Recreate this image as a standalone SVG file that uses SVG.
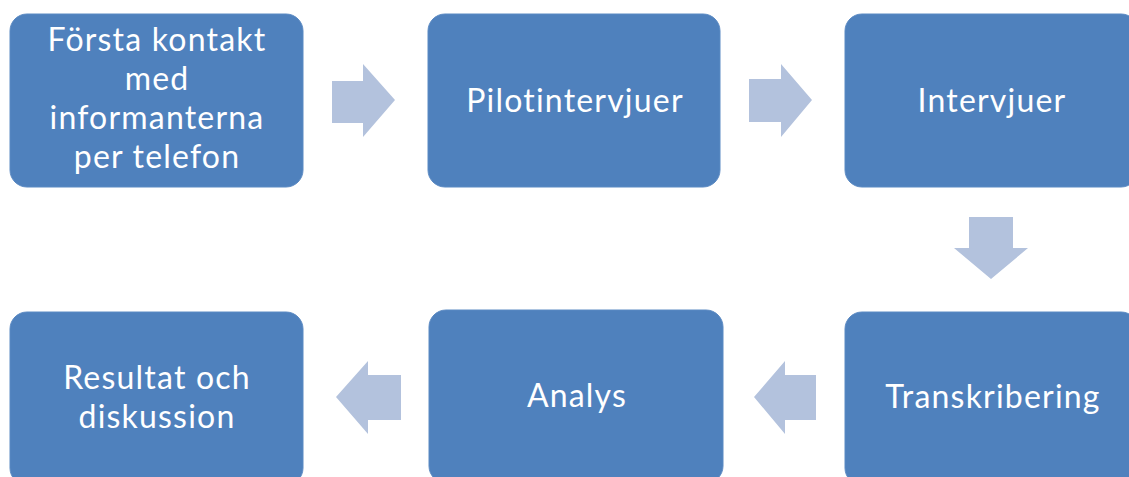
<svg xmlns="http://www.w3.org/2000/svg" width="1129" height="477" viewBox="0 0 1129 477">
<style>
.box{fill:#4F81BD;stroke:#5B8AC3;stroke-width:1}
.lbl{font-family:Lato,"Open Sans",sans-serif;font-size:32px;letter-spacing:1.2px;fill:#FFFFFF;text-anchor:middle}
.arr{fill:#B3C2DD}
</style>
<rect width="1129" height="477" fill="#FFFFFF"/>
<g id="connectors">
<polygon class="arr" points="332,81 363,81 363,64 395,100 363,137 363,123 332,123"/>
<polygon class="arr" points="749,79 781,79 781,64 812,100 781,137 781,122 749,122"/>
<polygon class="arr" points="969,217 1013,217 1013,248 1028,248 991,279 954,248 969,248"/>
<polygon class="arr" points="816,375 785,375 785,361 754,397 785,434 785,420 816,420"/>
<polygon class="arr" points="401,375 368,375 368,361 336,397 368,434 368,420 401,420"/>
</g>
<g id="n1">
<rect class="box" x="10" y="14" width="293" height="173" rx="17"/>
<text class="lbl" x="157" y="51">Första kontakt</text>
<text class="lbl" x="157" y="90">med</text>
<text class="lbl" x="157" y="129">informanterna</text>
<text class="lbl" x="157" y="168">per telefon</text>
</g>
<g id="n2">
<rect class="box" x="428" y="14" width="292" height="173" rx="17"/>
<text class="lbl" x="575" y="112">Pilotintervjuer</text>
</g>
<g id="n3">
<rect class="box" x="845" y="14" width="293" height="173" rx="17"/>
<text class="lbl" x="992" y="112">Intervjuer</text>
</g>
<g id="n4">
<rect class="box" x="845" y="312" width="293" height="173" rx="17"/>
<text class="lbl" x="993" y="408">Transkribering</text>
</g>
<g id="n5">
<rect class="box" x="429" y="310" width="294" height="173" rx="17"/>
<text class="lbl" x="577" y="407">Analys</text>
</g>
<g id="n6">
<rect class="box" x="10" y="312" width="293" height="173" rx="17"/>
<text class="lbl" x="157" y="389">Resultat och</text>
<text class="lbl" x="157" y="428">diskussion</text>
</g>
</svg>
